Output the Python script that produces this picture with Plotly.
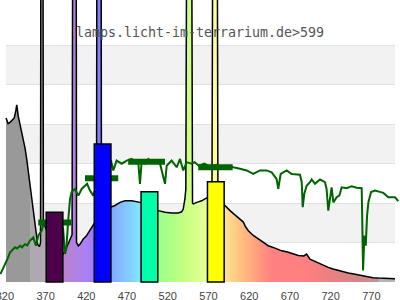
import plotly.graph_objects as go

# ---------------- data ----------------
title_text = "lamps.licht-im-terrarium.de>599"

wavelength = [321.4, 324.0, 326.3, 329.0, 331.5, 333.5, 334.6, 336.5, 338.6, 340.5,
              342.7, 344.7, 346.8, 348.8, 350.9, 352.9, 354.9, 357.9, 360.3, 362.5,
              363.8, 364.2, 366.8, 367.3, 369.5, 375.0, 380.0, 385.0, 389.0, 391.8,
              393.8, 395.9, 398.0, 400.0, 402.5, 403.3, 407.6, 408.0, 410.2, 412.3,
              416.3, 420.5, 424.5, 428.6, 430.7, 432.5, 433.0, 438.2, 438.6, 444.0,
              450.3, 455.2, 461.4, 467.5, 475.7, 481.0, 486.0, 492.0, 500.0, 505.0,
              508.4, 516.6, 524.8, 533.0, 537.0, 539.0, 541.0, 542.2, 543.2, 549.4,
              550.4, 551.4, 555.6, 561.7, 565.7, 570.0, 574.3, 575.2, 580.8, 581.6,
              586.0, 590.3, 596.4, 602.6, 608.7, 612.8, 615.5, 618.9, 625.0, 631.2,
              637.3, 643.4, 651.7, 659.9, 667.0, 672.0, 680.3, 687.0, 690.5, 694.6,
              700.0, 704.8, 711.0, 717.1, 723.0, 729.4, 735.0, 741.6, 747.0, 753.9,
              760.0, 766.2, 772.0, 778.5, 785.0, 790.7, 795.0, 799.0]
intensity = [4.16, 4.02, 4.05, 4.10, 4.16, 4.35, 4.49, 4.20, 4.00, 3.85,
             3.63, 3.40, 3.12, 2.80, 2.44, 2.10, 1.78, 1.35, 0.95, 0.90,
             1.00, 9.0, 9.0, 1.50, 1.40, 1.10, 0.90, 0.78, 0.72, 0.71,
             0.78, 0.89, 0.98, 1.09, 1.20, 9.0, 9.0, 1.00, 0.92, 0.96,
             1.09, 1.18, 1.30, 1.43, 1.52, 1.60, 9.0, 9.0, 1.75, 1.85,
             1.90, 1.94, 2.02, 2.06, 2.06, 2.04, 2.02, 1.95, 1.87, 1.83,
             1.81, 1.77, 1.75, 1.75, 1.78, 1.85, 2.10, 2.36, 9.0, 9.0,
             2.00, 1.98, 2.02, 2.06, 2.11, 2.15, 2.25, 9.0, 9.0, 2.20,
             2.00, 1.94, 1.81, 1.70, 1.60, 1.52, 1.40, 1.30, 1.18, 1.09,
             1.01, 0.92, 0.86, 0.79, 0.76, 0.73, 0.67, 0.66, 0.71, 0.58,
             0.53, 0.48, 0.42, 0.37, 0.33, 0.29, 0.27, 0.23, 0.21, 0.18,
             0.15, 0.13, 0.11, 0.10, 0.09, 0.08, 0.09, 0.08]

green_wl = [314.5, 318.0, 321.4, 323.5, 326.3, 329.0, 332.5, 335.0, 338.6, 341.0,
            344.7, 347.5, 350.9, 354.9, 356.5, 358.2, 361.1, 365.2, 368.1, 372.0,
            380.0, 388.0, 391.5, 393.8, 395.5, 397.9, 400.0, 402.0, 406.1, 410.2,
            414.3, 418.4, 421.0, 424.5, 428.6, 435.0, 445.0, 450.3, 453.1, 457.2,
            463.4, 469.6, 475.7, 480.0, 483.8, 485.9, 488.0, 492.0, 496.1, 500.0,
            504.3, 510.5, 516.6, 518.7, 524.8, 531.0, 535.0, 539.0, 543.2, 549.3,
            553.0, 558.0, 565.0, 572.0, 580.0, 588.0, 595.0, 600.4, 608.7, 616.9,
            625.0, 633.2, 641.4, 647.6, 653.7, 655.7, 658.6, 666.0, 672.1, 682.3,
            684.5, 685.7, 687.6, 690.5, 694.6, 696.7, 700.7, 706.9, 713.0, 715.0,
            717.1, 719.2, 721.2, 723.3, 727.4, 730.6, 733.5, 739.7, 745.8, 752.0,
            758.1, 758.9, 759.8, 761.4, 763.1, 764.7, 766.3, 769.6, 774.5, 784.7,
            790.8, 799.0, 803.0]
green_val = [0.20, 0.35, 0.50, 0.60, 0.75, 0.80, 0.88, 0.85, 0.92, 0.88,
             0.96, 0.93, 1.05, 1.13, 1.02, 0.92, 1.18, 1.30, 1.52, 1.55,
             1.60, 1.50, 1.35, 0.71, 0.85, 1.60, 2.10, 2.28, 2.36, 2.19,
             2.36, 2.44, 2.49, 2.32, 2.19, 2.60, 2.90, 3.08, 2.83, 3.08,
             3.00, 3.08, 3.12, 3.05, 3.04, 2.49, 3.08, 3.00, 3.12, 3.05,
             3.08, 3.00, 2.49, 2.95, 3.08, 2.91, 3.12, 2.83, 3.04, 3.00,
             3.04, 2.95, 3.00, 2.92, 2.97, 2.90, 2.95, 2.91, 2.87, 2.83,
             2.74, 2.83, 2.83, 2.78, 2.61, 2.36, 2.74, 2.83, 2.74, 2.72,
             2.53, 1.90, 2.23, 2.44, 2.53, 2.60, 2.49, 2.60, 2.53, 2.36,
             1.81, 2.11, 2.40, 2.02, 2.15, 2.19, 2.40, 2.38, 2.43, 2.39,
             2.38, 1.43, 0.29, 1.18, 0.92, 1.68, 2.02, 2.28, 2.32, 2.26,
             2.15, 2.15, 2.05]

seg_start = [361.0, 418.4, 471.4, 557.5]
seg_end = [401.2, 459.2, 516.6, 599.7]
seg_value = [1.51, 2.63, 3.05, 2.91]

bar_center = [381.0, 440.0, 497.5, 579.0]
bar_height = [1.77, 3.50, 2.29, 2.54]
bar_color = ["#4c004c", "#0000ff", "#00ffaa", "#ffff00"]

tick_vals = [320, 370, 420, 470, 520, 570, 620, 670, 720, 770]
tick_text = ["320", "370", "420", "470", "520", "570", "620", "670", "720", "770"]

grad_wl = [321.4, 350.9, 351.0, 370.5, 372.0, 391.0, 420.0, 430.0, 436.0, 449.0,
           451.0, 487.0, 489.0, 507.0, 540.0, 568.0, 575.0, 581.0, 590.0, 605.0,
           620.0, 640.0, 650.0, 690.0, 720.0, 760.0, 778.0, 779.0, 799.0]
grad_color = ["#999999", "#999999", "#b0a8b0", "#b0a8b0", "#b982cc", "#bb82cc",
              "#aa80f5", "#9c7cff", "#8080ff", "#8090ff", "#82aaff", "#82e6ff",
              "#8af0d0", "#96ff8c", "#c4ff82", "#e6ff96", "#ffff96", "#ffff96",
              "#ffe496", "#ffc882", "#ffb07e", "#ff8c80", "#ff8080", "#ff8080",
              "#ea8080", "#d08888", "#c89090", "#b4b4b4", "#b4b4b4"]

# ---------------- layout geometry (pixels) ----------------
W, H = 400, 300
PL, PR, PT, PB = 6, 395, 6, 282
X_LO, X_HI = 321.4, 799.0
Y_LO, Y_HI = 0.0, 7.0

px_nm = (PR - PL) / (X_HI - X_LO)
px_u = (PB - PT) / (Y_HI - Y_LO)
x2_range = [X_LO - PL / px_nm, X_HI + (W - PR) / px_nm]
y2_range = [Y_LO - (H - PB) / px_u, Y_HI + PT / px_u]

g0, g1 = grad_wl[0], grad_wl[-1]
colorscale = [[(w - g0) / (g1 - g0), c] for w, c in zip(grad_wl, grad_color)]

seg_x, seg_y = [], []
for s, e, v in zip(seg_start, seg_end, seg_value):
    seg_x += [s, e, None]
    seg_y += [v, v, None]

fig = go.Figure()
# empty trace so the framed subplot exists
fig.add_trace(go.Scatter(x=[], y=[], xaxis="x", yaxis="y", showlegend=False))

fig.add_trace(go.Scatter(
    x=wavelength, y=intensity, mode="lines",
    line=dict(color="black", width=1.5),
    fill="tozeroy",
    fillgradient=dict(type="horizontal", colorscale=colorscale, start=g0, stop=g1),
    xaxis="x2", yaxis="y2", showlegend=False, hoverinfo="skip", zorder=0))

fig.add_trace(go.Scatter(
    x=green_wl, y=green_val, mode="lines",
    line=dict(color="#006400", width=2),
    xaxis="x2", yaxis="y2", showlegend=False, zorder=1))

fig.add_trace(go.Scatter(
    x=seg_x, y=seg_y, mode="lines",
    line=dict(color="#006400", width=6),
    xaxis="x2", yaxis="y2", showlegend=False, zorder=2))

fig.add_trace(go.Bar(
    x=bar_center, y=bar_height, width=20.5,
    marker=dict(color=bar_color, line=dict(color="black", width=1.5)),
    xaxis="x2", yaxis="y2", showlegend=False, zorder=3))

shapes = []
for k in (1, 3, 5):
    shapes.append(dict(type="rect", xref="x domain", yref="y", x0=0, x1=1,
                       y0=k, y1=k + 1, fillcolor="#f2f2f2", line=dict(width=0),
                       layer="below"))

fig.update_layout(
    width=W, height=H, autosize=False,
    margin=dict(l=0, r=0, t=0, b=0, pad=0, autoexpand=False),
    paper_bgcolor="white", plot_bgcolor="rgba(0,0,0,0)",
    showlegend=False,
    shapes=shapes,
    title=dict(text=title_text, x=0.5, xanchor="center", xref="container",
               y=1 - 32 / H, yanchor="middle", yref="container",
               font=dict(family="DejaVu Sans Mono", size=13.3, color="#555555")),
    xaxis=dict(domain=[PL / W, PR / W], range=[X_LO, X_HI], showgrid=False,
               zeroline=False, showticklabels=False, ticks="", automargin=False,
               showline=True, mirror=True, linecolor="#d8d8d8", linewidth=1),
    yaxis=dict(domain=[(H - PB) / H, (H - PT) / H], range=[Y_LO, Y_HI], dtick=1,
               showgrid=True, gridcolor="#e0e0e0", gridwidth=1, zeroline=False,
               showticklabels=False, ticks="", automargin=False,
               showline=True, mirror=True, linecolor="#d8d8d8", linewidth=1),
    xaxis2=dict(domain=[0, 1], range=x2_range, anchor="free", position=(H - PB) / H,
                showgrid=False, zeroline=False, showline=False, automargin=False,
                tickvals=tick_vals, ticktext=tick_text, ticklabeloverflow="allow",
                ticks="outside", ticklen=4, tickcolor="rgba(0,0,0,0)",
                tickfont=dict(family="Liberation Sans", size=11, color="#444444")),
    yaxis2=dict(domain=[0, 1], range=y2_range, anchor="x2", visible=False,
                automargin=False),
)

fig.write_html("out.html")
